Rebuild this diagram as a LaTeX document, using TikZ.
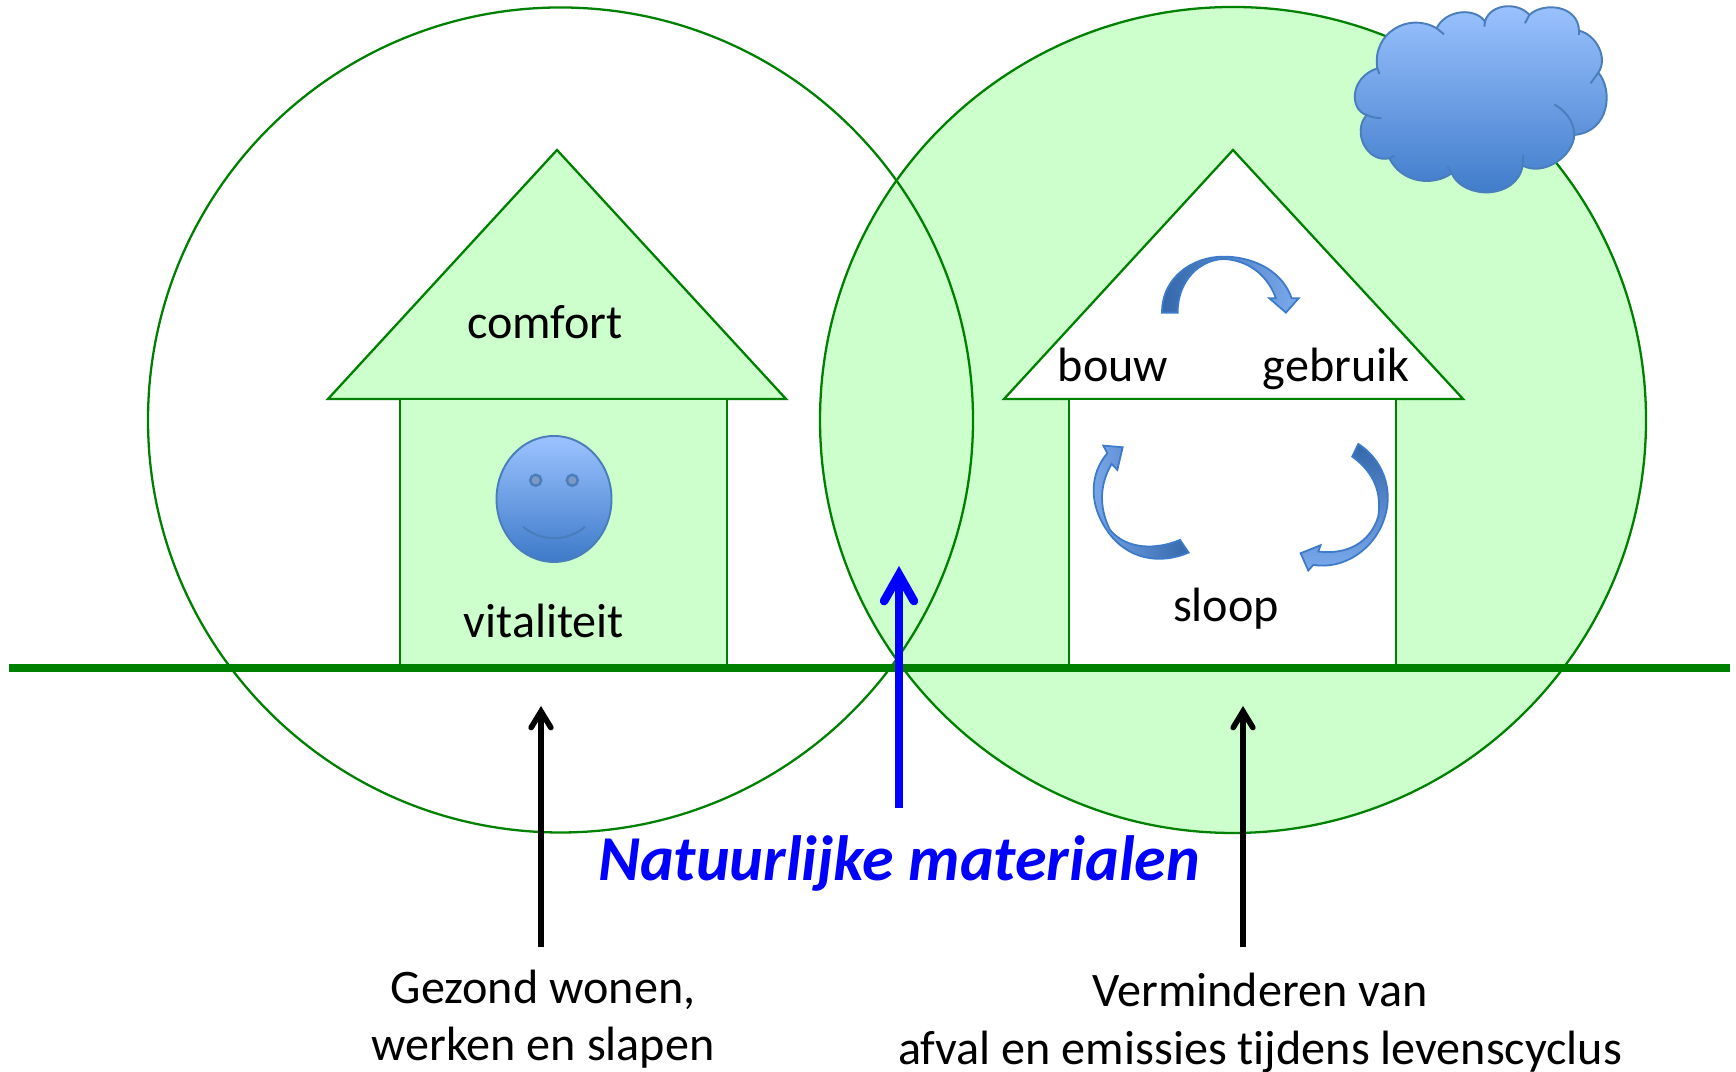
\documentclass[tikz,border=0pt]{standalone}
\usepackage{fontspec}
\setmainfont[Ligatures=CommonOff]{Carlito}
\usetikzlibrary{arrows.meta}
\definecolor{lichtgroen}{HTML}{CCFFCC}
\definecolor{lijngroen}{HTML}{008000}
\definecolor{blauwlicht}{HTML}{9CC3FF}
\definecolor{blauwdonker}{HTML}{3D7AC9}
\definecolor{blauwrand}{HTML}{4A7EBB}
\definecolor{oogblauw}{HTML}{7D9AC6}
\tikzset{
  lijn/.style={draw=lijngroen,line width=0.65pt},
  vorm/.style={draw=blauwrand,line width=0.55pt,top color=blauwlicht,bottom color=blauwdonker},
  krul/.style={draw=blauwdonker,line width=0.5pt},
  detail/.style={shift={(#1)},x=0.03333mm,y=-0.03333mm},
  tekst/.style={font=\fontsize{13.7}{16.4}\selectfont,inner sep=0pt,align=center},
  pijl/.style={-{Straight Barb[line cap=round,length=4.6pt,width=5.6pt]},line width=1.6pt},
  blauwpijl/.style={-{Straight Barb[line cap=round,length=7.5pt,width=8.5pt]},line width=2.45pt,blue}
}
\begin{document}
\begin{tikzpicture}
\useasboundingbox (0,0) rectangle (17.36,10.72);
\fill [lichtgroen] (12.33,6.52) circle (4.13);

\path [fill=lichtgroen,lijn] (5.57,9.22) -- (3.28,6.73) -- (7.86,6.73) -- cycle;
\path [fill=lichtgroen,lijn] (4.00,4.04) rectangle (7.27,6.73);
\path [fill=white,lijn] (12.33,9.22) -- (10.04,6.73) -- (14.63,6.73) -- cycle;
\path [fill=white,lijn] (10.69,4.04) rectangle (13.96,6.73);

\draw [lijn] (5.605,6.52) circle (4.125);
\draw [lijn] (12.33,6.52) circle (4.13);

\coordinate (grondL) at (0.09,4.04);
\coordinate (grondR) at (17.30,4.04);
\draw [lijngroen,line width=2pt] (grondL) -- (grondR);

\node [tekst] (comfort) at (5.45,7.50) {comfort};
\node [tekst] (vitaliteit) at (5.44,4.51) {vitaliteit};
\node [tekst,anchor=base] (bouw) at (11.13,6.90) {bouw};
\node [tekst,anchor=base] (gebruik) at (13.36,6.90) {gebruik};
\node [tekst] (sloop) at (12.26,4.63) {sloop};
\node [tekst] (gezond) at (5.43,0.53) {Gezond wonen,\\werken en slapen};
\node [tekst] (verminderen) at (12.60,0.49) {Verminderen van\\afval en emissies tijdens levenscyclus};
\node [inner sep=0pt,text=blue,font=\fontsize{18.2}{22}\selectfont\bfseries\itshape] (natuurlijk) at (8.99,2.09) {Natuurlijke materialen};

\coordinate (startL) at (5.41,1.25);
\coordinate (puntL) at (5.41,3.66);
\coordinate (startR) at (12.43,1.25);
\coordinate (puntR) at (12.43,3.66);
\coordinate (startM) at (8.99,2.64);
\coordinate (puntM) at (8.99,5.06);
\draw [pijl] (startL) -- (puntL);
\draw [pijl] (startR) -- (puntR);
\draw [blauwpijl] (startM) -- (puntM);

\draw [vorm] (5.54,5.73) ellipse (0.575 and 0.63);
\draw [blauwrand,fill=oogblauw,line width=0.7pt] (5.357,5.917) circle (0.055);
\draw [blauwrand,fill=oogblauw,line width=0.7pt] (5.723,5.917) circle (0.055);
\draw [blauwrand,line width=0.6pt] (5.233,5.453) .. controls (5.40,5.30) and (5.68,5.30) .. (5.85,5.453);

\begin{scope}[detail={13.30,10.72}]
\draw [vorm] (110,345) .. controls (58,330) and (58,233) .. (142,205)
  .. controls (125,100) and (235,35) .. (320,85)
  .. controls (345,30) and (435,20) .. (465,65)
  .. controls (480,10) and (565,5) .. (598,45)
  .. controls (640,5) and (745,15) .. (747,92)
  .. controls (800,105) and (835,175) .. (805,218)
  .. controls (850,270) and (840,395) .. (733,405)
  .. controls (730,470) and (640,530) .. (578,497)
  .. controls (560,600) and (400,600) .. (365,520)
  .. controls (310,560) and (215,550) .. (178,475)
  .. controls (110,490) and (65,395) .. (110,345) -- cycle;
\draw [blauwrand,line width=0.55pt]
  (110,345) .. controls (125,352) and (140,355) .. (155,355)
  (142,205) -- (148,222)
  (320,85) -- (342,103)
  (465,65) -- (463,80)
  (598,45) -- (585,70)
  (747,92) -- (747,105)
  (805,218) -- (782,250)
  (733,405) .. controls (733,365) and (705,330) .. (673,314)
  (578,497) -- (580,465)
  (365,520) -- (352,498)
  (178,475) -- (195,467);
\end{scope}

\begin{scope}[detail={10.60,8.32}]
\draw [krul,left color=blauwdonker!85!black,middle color=blauwdonker,right color=blauwlicht!65!blauwdonker]
  (306,218) .. controls (306,110) and (400,50) .. (490,50)
  .. controls (590,50) and (670,100) .. (695,175)
  -- (716,175) -- (678,218) -- (628,175) -- (648,175)
  .. controls (620,100) and (560,60) .. (490,57)
  .. controls (420,60) and (353,120) .. (353,218) -- cycle;
\draw [krul,left color=blauwlicht!65!blauwdonker,middle color=blauwdonker,right color=blauwdonker!85!black]
  (360,900) -- (386,938) .. controls (300,975) and (200,960) .. (140,870)
  .. controls (85,790) and (90,700) .. (142,640)
  -- (130,617) -- (188,622) -- (172,690) -- (155,672)
  .. controls (120,730) and (115,800) .. (150,870)
  .. controls (200,930) and (290,930) .. (360,900) -- cycle;
\draw [krul,top color=blauwdonker!85!black,middle color=blauwdonker!80!blauwlicht,bottom color=blauwlicht!65!blauwdonker]
  (895,612) .. controls (970,660) and (1000,750) .. (975,830)
  .. controls (945,930) and (850,990) .. (760,975)
  -- (745,992) -- (722,940) -- (782,916) -- (775,935)
  .. controls (860,945) and (930,910) .. (955,830)
  .. controls (965,760) and (945,700) .. (877,650) -- cycle;
\end{scope}
\end{tikzpicture}
\end{document}
